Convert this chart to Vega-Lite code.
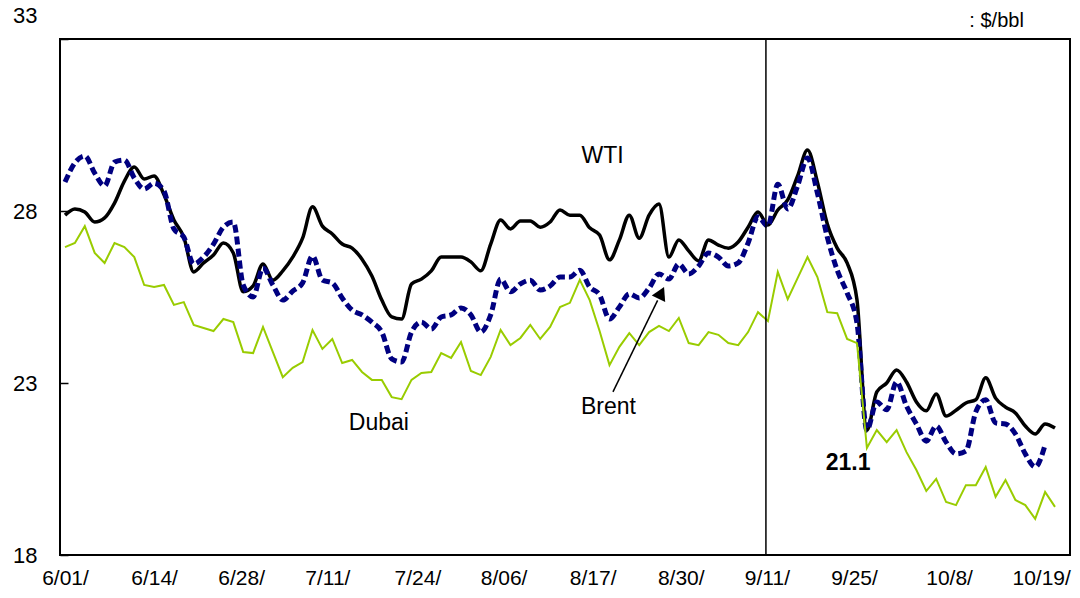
{
  "$schema": "https://vega.github.io/schema/vega-lite/v6.json",
  "width": 1010,
  "height": 516,
  "autosize": {"type": "none"},
  "padding": {"left": 60, "top": 39, "right": 10, "bottom": 43},
  "background": "white",
  "config": {
    "view": {"stroke": "black", "strokeWidth": 2},
    "font": "Liberation Sans",
    "axisY": {
      "title": null,
      "grid": false,
      "domain": false,
      "ticks": true,
      "tickSize": -8,
      "tickColor": "black",
      "tickWidth": 1.5,
      "labelPadding": 31,
      "labelFont": "Liberation Sans",
      "labelFontSize": 22,
      "labelColor": "black",
      "labelFlush": false,
      "labelOverlap": false
    }
  },
  "datasets": {
    "prices": [
      {"i":0,"WTI":27.88,"Brent":28.84,"Dubai":26.95},
      {"i":1,"WTI":28.06,"Brent":29.40,"Dubai":27.07},
      {"i":2,"WTI":27.97,"Brent":29.60,"Dubai":27.56},
      {"i":3,"WTI":27.68,"Brent":29.10,"Dubai":26.78},
      {"i":4,"WTI":27.80,"Brent":28.73,"Dubai":26.49},
      {"i":5,"WTI":28.23,"Brent":29.42,"Dubai":27.07},
      {"i":6,"WTI":28.87,"Brent":29.48,"Dubai":26.95},
      {"i":7,"WTI":29.28,"Brent":28.96,"Dubai":26.66},
      {"i":8,"WTI":28.93,"Brent":28.64,"Dubai":25.85},
      {"i":9,"WTI":29.02,"Brent":28.81,"Dubai":25.79},
      {"i":10,"WTI":28.47,"Brent":28.58,"Dubai":25.85},
      {"i":11,"WTI":27.74,"Brent":27.48,"Dubai":25.27},
      {"i":12,"WTI":27.24,"Brent":27.24,"Dubai":25.35},
      {"i":13,"WTI":26.23,"Brent":26.46,"Dubai":24.69},
      {"i":14,"WTI":26.49,"Brent":26.66,"Dubai":24.60},
      {"i":15,"WTI":26.72,"Brent":27.04,"Dubai":24.51},
      {"i":16,"WTI":27.07,"Brent":27.53,"Dubai":24.86},
      {"i":17,"WTI":26.78,"Brent":27.68,"Dubai":24.77},
      {"i":18,"WTI":25.65,"Brent":25.85,"Dubai":23.90},
      {"i":19,"WTI":25.82,"Brent":25.50,"Dubai":23.87},
      {"i":20,"WTI":26.46,"Brent":26.34,"Dubai":24.63},
      {"i":21,"WTI":25.99,"Brent":25.85,"Dubai":23.90},
      {"i":22,"WTI":26.26,"Brent":25.41,"Dubai":23.17},
      {"i":23,"WTI":26.66,"Brent":25.67,"Dubai":23.44},
      {"i":24,"WTI":27.21,"Brent":25.91,"Dubai":23.61},
      {"i":25,"WTI":28.12,"Brent":26.69,"Dubai":24.54},
      {"i":26,"WTI":27.56,"Brent":25.99,"Dubai":23.99},
      {"i":27,"WTI":27.33,"Brent":25.91,"Dubai":24.28},
      {"i":28,"WTI":27.04,"Brent":25.47,"Dubai":23.58},
      {"i":29,"WTI":26.92,"Brent":25.12,"Dubai":23.67},
      {"i":30,"WTI":26.60,"Brent":24.98,"Dubai":23.32},
      {"i":31,"WTI":26.11,"Brent":24.77,"Dubai":23.09},
      {"i":32,"WTI":25.41,"Brent":24.48,"Dubai":23.09},
      {"i":33,"WTI":24.92,"Brent":23.70,"Dubai":22.59},
      {"i":34,"WTI":24.86,"Brent":23.61,"Dubai":22.53},
      {"i":35,"WTI":25.88,"Brent":24.48,"Dubai":23.09},
      {"i":36,"WTI":26.02,"Brent":24.77,"Dubai":23.29},
      {"i":37,"WTI":26.26,"Brent":24.57,"Dubai":23.32},
      {"i":38,"WTI":26.66,"Brent":24.92,"Dubai":23.87},
      {"i":39,"WTI":26.66,"Brent":24.98,"Dubai":23.73},
      {"i":40,"WTI":26.66,"Brent":25.18,"Dubai":24.19},
      {"i":41,"WTI":26.52,"Brent":24.98,"Dubai":23.35},
      {"i":42,"WTI":26.26,"Brent":24.48,"Dubai":23.23},
      {"i":43,"WTI":27.04,"Brent":24.98,"Dubai":23.76},
      {"i":44,"WTI":27.74,"Brent":26.02,"Dubai":24.54},
      {"i":45,"WTI":27.48,"Brent":25.65,"Dubai":24.10},
      {"i":46,"WTI":27.71,"Brent":25.88,"Dubai":24.31},
      {"i":47,"WTI":27.71,"Brent":25.99,"Dubai":24.69},
      {"i":48,"WTI":27.53,"Brent":25.70,"Dubai":24.28},
      {"i":49,"WTI":27.68,"Brent":25.82,"Dubai":24.63},
      {"i":50,"WTI":28.03,"Brent":26.08,"Dubai":25.21},
      {"i":51,"WTI":27.88,"Brent":26.08,"Dubai":25.33},
      {"i":52,"WTI":27.88,"Brent":26.28,"Dubai":26.00},
      {"i":53,"WTI":27.51,"Brent":25.79,"Dubai":25.41},
      {"i":54,"WTI":27.30,"Brent":25.56,"Dubai":24.51},
      {"i":55,"WTI":26.58,"Brent":24.86,"Dubai":23.52},
      {"i":56,"WTI":27.16,"Brent":25.21,"Dubai":24.05},
      {"i":57,"WTI":27.88,"Brent":25.59,"Dubai":24.45},
      {"i":58,"WTI":27.21,"Brent":25.47,"Dubai":24.10},
      {"i":59,"WTI":27.88,"Brent":25.76,"Dubai":24.48},
      {"i":60,"WTI":28.20,"Brent":26.17,"Dubai":24.66},
      {"i":61,"WTI":26.66,"Brent":26.02,"Dubai":24.51},
      {"i":62,"WTI":27.16,"Brent":26.46,"Dubai":24.89},
      {"i":63,"WTI":26.84,"Brent":26.17,"Dubai":24.16},
      {"i":64,"WTI":26.55,"Brent":26.40,"Dubai":24.10},
      {"i":65,"WTI":27.16,"Brent":26.78,"Dubai":24.48},
      {"i":66,"WTI":27.01,"Brent":26.66,"Dubai":24.40},
      {"i":67,"WTI":26.92,"Brent":26.40,"Dubai":24.16},
      {"i":68,"WTI":27.10,"Brent":26.49,"Dubai":24.10},
      {"i":69,"WTI":27.53,"Brent":27.07,"Dubai":24.48},
      {"i":70,"WTI":27.97,"Brent":27.83,"Dubai":25.06},
      {"i":71,"WTI":27.59,"Brent":27.56,"Dubai":24.80},
      {"i":72,"WTI":28.03,"Brent":28.78,"Dubai":26.23},
      {"i":73,"WTI":28.32,"Brent":28.06,"Dubai":25.44},
      {"i":74,"WTI":29.02,"Brent":28.73,"Dubai":26.05},
      {"i":75,"WTI":29.77,"Brent":29.54,"Dubai":26.66},
      {"i":76,"WTI":28.84,"Brent":28.52,"Dubai":26.08},
      {"i":77,"WTI":27.62,"Brent":27.24,"Dubai":25.06},
      {"i":78,"WTI":26.92,"Brent":26.28,"Dubai":25.03},
      {"i":79,"WTI":26.49,"Brent":25.62,"Dubai":24.28},
      {"i":80,"WTI":25.41,"Brent":24.74,"Dubai":24.16},
      {"i":81,"WTI":21.63,"Brent":21.63,"Dubai":21.11},
      {"i":82,"WTI":22.74,"Brent":22.45,"Dubai":21.63},
      {"i":83,"WTI":23.00,"Brent":22.22,"Dubai":21.28},
      {"i":84,"WTI":23.38,"Brent":23.03,"Dubai":21.63},
      {"i":85,"WTI":23.03,"Brent":22.33,"Dubai":20.99},
      {"i":86,"WTI":22.45,"Brent":21.81,"Dubai":20.47},
      {"i":87,"WTI":22.19,"Brent":21.31,"Dubai":19.86},
      {"i":88,"WTI":22.68,"Brent":21.75,"Dubai":20.21},
      {"i":89,"WTI":22.04,"Brent":21.28,"Dubai":19.54},
      {"i":90,"WTI":22.21,"Brent":20.94,"Dubai":19.45},
      {"i":91,"WTI":22.42,"Brent":21.02,"Dubai":20.03},
      {"i":92,"WTI":22.51,"Brent":22.16,"Dubai":20.03},
      {"i":93,"WTI":23.15,"Brent":22.51,"Dubai":20.56},
      {"i":94,"WTI":22.56,"Brent":21.84,"Dubai":19.69},
      {"i":95,"WTI":22.30,"Brent":21.81,"Dubai":20.18},
      {"i":96,"WTI":22.13,"Brent":21.52,"Dubai":19.60},
      {"i":97,"WTI":21.75,"Brent":20.94,"Dubai":19.45},
      {"i":98,"WTI":21.52,"Brent":20.56,"Dubai":19.05},
      {"i":99,"WTI":21.81,"Brent":21.20,"Dubai":19.83},
      {"i":100,"WTI":21.69,"Brent":null,"Dubai":19.40}
    ],
    "names": [
      {"i":54.3,"v":29.40,"label":"WTI"},
      {"i":31.7,"v":21.63,"label":"Dubai"},
      {"i":54.9,"v":22.10,"label":"Brent"}
    ],
    "low": [{"i":79.1,"v":20.47,"label":"21.1"}],
    "unit": [{"i":94.1,"v":33.35,"label":": $/bbl"}],
    "event": [{"i":70.8}],
    "arrow": [{"i":55.35,"v":22.74,"i2":59.86,"v2":25.40}],
    "head": [{"i":60.23,"v":25.62}]
  },
  "encoding": {
    "x": {
      "field": "i",
      "type": "quantitative",
      "scale": {"domain": [-0.505, 101.515], "nice": false, "zero": false},
      "axis": {
        "title": null,
        "values": [0, 9, 17.8, 26.5, 35.6, 44.3, 53.3, 62.2, 70.9, 79.7, 89.3, 98.6],
        "labelExpr": "['6/01/','6/14/','6/28/','7/11/','7/24/','8/06/','8/17/','8/30/','9/11/','9/25/','10/8/','10/19/'][indexof([0, 9, 17.8, 26.5, 35.6, 44.3, 53.3, 62.2, 70.9, 79.7, 89.3, 98.6], datum.value)]",
        "grid": false,
        "ticks": false,
        "domain": false,
        "labelFont": "Liberation Sans",
        "labelFontSize": 21,
        "labelColor": "black",
        "labelPadding": 12,
        "labelFlush": false,
        "labelOverlap": false,
        "labelBound": false
      }
    }
  },
  "layer": [
    {
      "data": {"name": "prices"},
      "mark": {"type": "line", "color": "black", "strokeWidth": 3.5, "interpolate": "monotone"},
      "encoding": {
        "y": {"field": "WTI", "type": "quantitative", "scale": {"domain": [18, 33], "nice": false, "zero": false},
          "axis": {"title": null, "values": [18, 23, 28, 33], "labelOffset": {"condition": {"test": "datum.value == 33", "value": -24}, "value": 0}}}
      }
    },
    {
      "data": {"name": "prices"},
      "mark": {"type": "line", "color": "#000080", "strokeWidth": 5, "strokeDash": [8, 4], "strokeCap": "butt", "interpolate": "monotone"},
      "encoding": {
        "y": {"field": "Brent", "type": "quantitative", "scale": {"domain": [18, 33], "nice": false, "zero": false},
          "axis": {"title": null, "values": [18, 23, 28, 33], "labelOffset": {"condition": {"test": "datum.value == 33", "value": -24}, "value": 0}}}
      }
    },
    {
      "data": {"name": "prices"},
      "mark": {"type": "line", "color": "#99CC00", "strokeWidth": 2},
      "encoding": {
        "y": {"field": "Dubai", "type": "quantitative", "scale": {"domain": [18, 33], "nice": false, "zero": false},
          "axis": {"title": null, "values": [18, 23, 28, 33], "labelOffset": {"condition": {"test": "datum.value == 33", "value": -24}, "value": 0}}}
      }
    },
    {
      "data": {"name": "event"},
      "mark": {"type": "rule", "color": "black", "strokeWidth": 1.5},
      "encoding": {}
    },
    {
      "data": {"name": "names"},
      "mark": {"type": "text", "fontSize": 23, "font": "Liberation Sans", "color": "black", "align": "center", "baseline": "alphabetic"},
      "encoding": {
        "y": {"field": "v", "type": "quantitative", "scale": {"domain": [18, 33], "nice": false, "zero": false},
          "axis": {"title": null, "values": [18, 23, 28, 33], "labelOffset": {"condition": {"test": "datum.value == 33", "value": -24}, "value": 0}}},
        "text": {"field": "label"}
      }
    },
    {
      "data": {"name": "low"},
      "mark": {"type": "text", "fontSize": 23, "fontWeight": "bold", "font": "Liberation Sans", "color": "black", "align": "center", "baseline": "alphabetic"},
      "encoding": {
        "y": {"field": "v", "type": "quantitative", "scale": {"domain": [18, 33], "nice": false, "zero": false},
          "axis": {"title": null, "values": [18, 23, 28, 33], "labelOffset": {"condition": {"test": "datum.value == 33", "value": -24}, "value": 0}}},
        "text": {"field": "label"}
      }
    },
    {
      "data": {"name": "unit"},
      "mark": {"type": "text", "fontSize": 20, "font": "Liberation Sans", "color": "black", "align": "center", "baseline": "alphabetic"},
      "encoding": {
        "y": {"field": "v", "type": "quantitative", "scale": {"domain": [18, 33], "nice": false, "zero": false},
          "axis": {"title": null, "values": [18, 23, 28, 33], "labelOffset": {"condition": {"test": "datum.value == 33", "value": -24}, "value": 0}}},
        "text": {"field": "label"}
      }
    },
    {
      "data": {"name": "arrow"},
      "mark": {"type": "rule", "color": "black", "strokeWidth": 1.5},
      "encoding": {
        "x2": {"field": "i2"},
        "y": {"field": "v", "type": "quantitative", "scale": {"domain": [18, 33], "nice": false, "zero": false},
          "axis": {"title": null, "values": [18, 23, 28, 33], "labelOffset": {"condition": {"test": "datum.value == 33", "value": -24}, "value": 0}}},
        "y2": {"field": "v2"}
      }
    },
    {
      "data": {"name": "head"},
      "mark": {"type": "point", "shape": "triangle-up", "filled": true, "color": "black", "opacity": 1, "size": 220, "angle": 25.7},
      "encoding": {
        "y": {"field": "v", "type": "quantitative", "scale": {"domain": [18, 33], "nice": false, "zero": false},
          "axis": {"title": null, "values": [18, 23, 28, 33], "labelOffset": {"condition": {"test": "datum.value == 33", "value": -24}, "value": 0}}}
      }
    }
  ]
}
